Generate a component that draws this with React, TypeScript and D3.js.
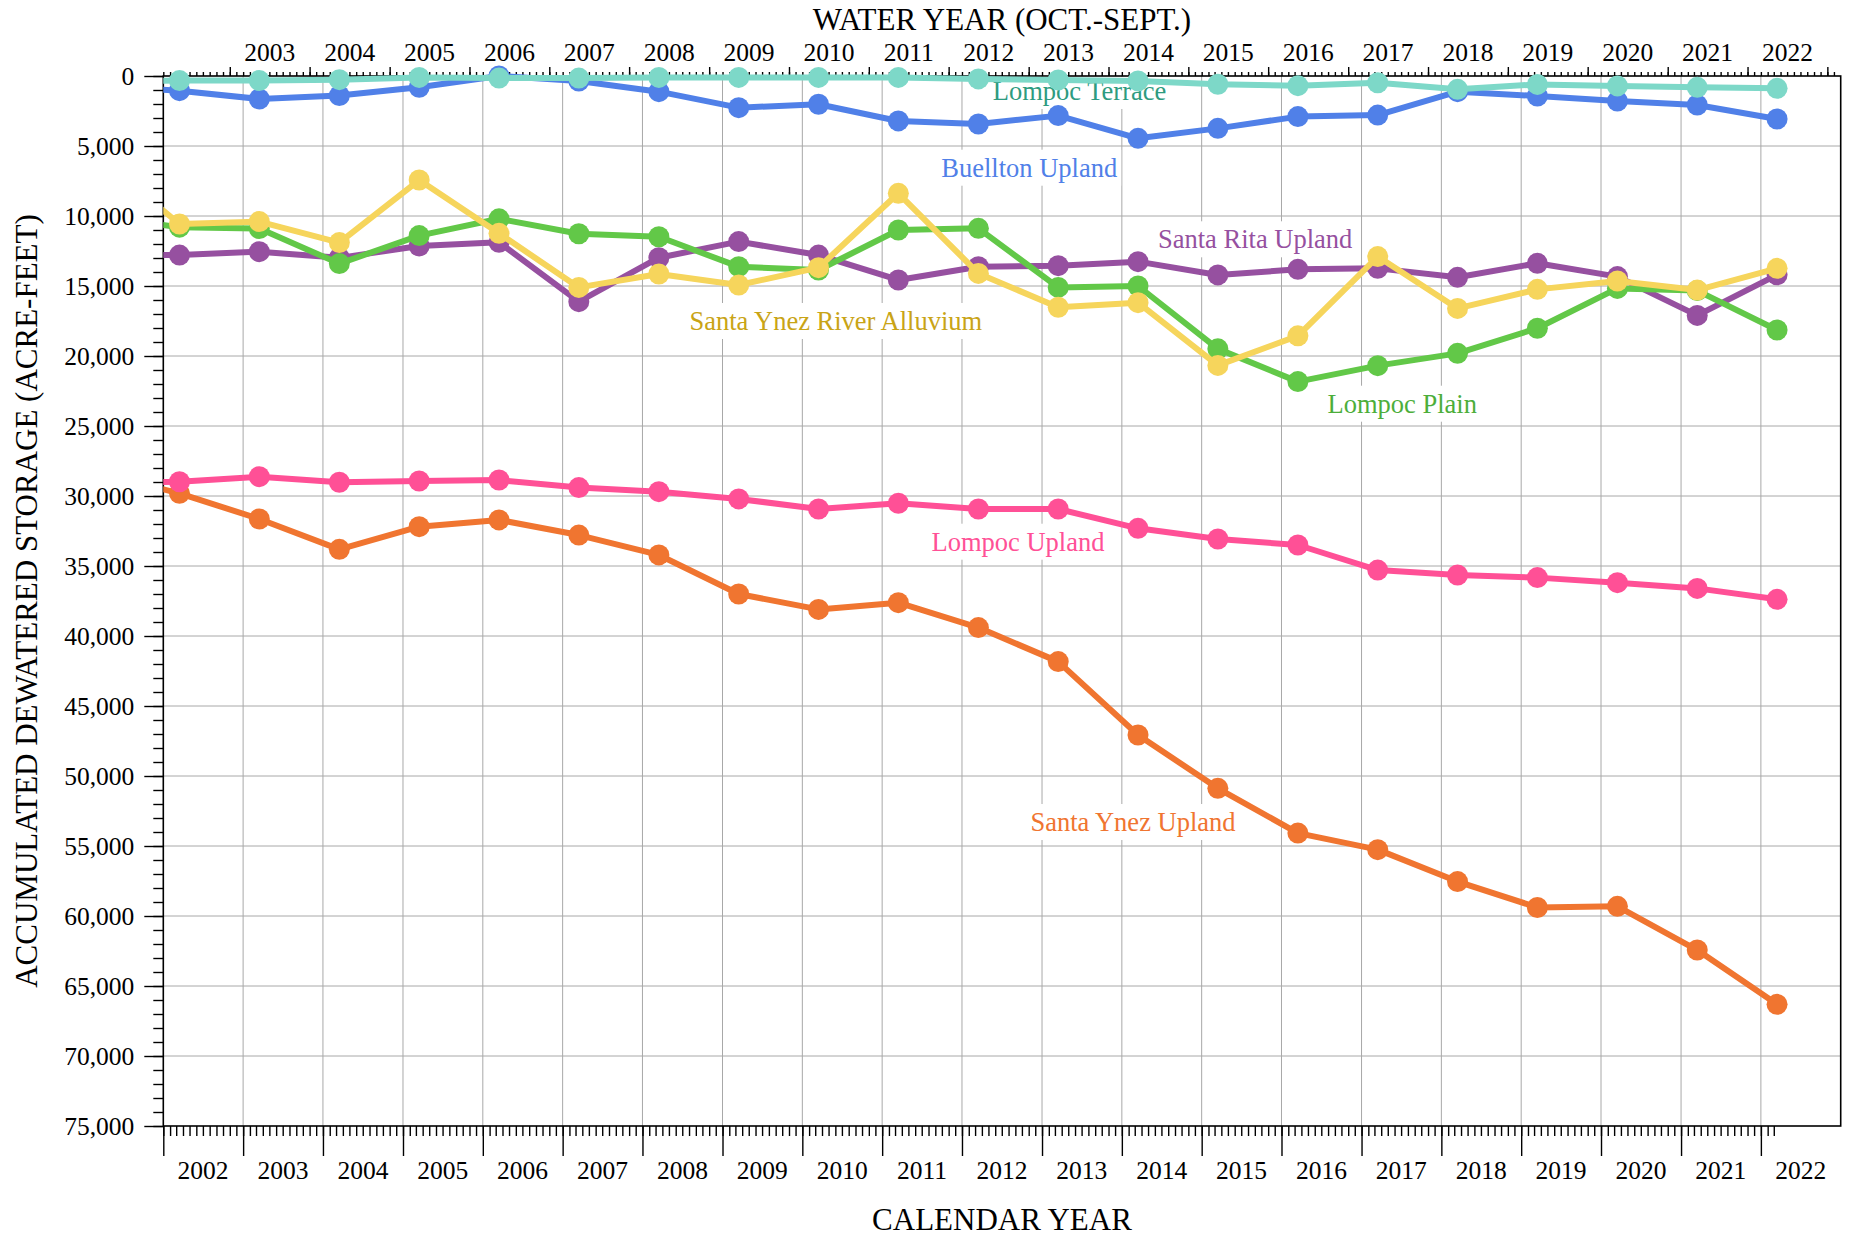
import React, { useEffect, useRef } from 'react';
import * as d3 from 'd3';

// Spring measurement years (2001 is the lead-in point, just outside the frame)
const YEARS = [2001, 2002, 2003, 2004, 2005, 2006, 2007, 2008, 2009, 2010, 2011, 2012, 2013, 2014, 2015, 2016, 2017, 2018, 2019, 2020, 2021, 2022];

const santaYnezUpland = [28400, 29810, 31640, 33810, 32190, 31710, 32790, 34210, 37000, 38100, 37620, 39400, 41830, 47070, 50880, 54080, 55260, 57540, 59390, 59310, 62430, 66310];
const lompocUpland = [29100, 28980, 28620, 29020, 28930, 28860, 29400, 29690, 30210, 30930, 30520, 30930, 30930, 32310, 33070, 33500, 35290, 35640, 35830, 36190, 36600, 37380];
const santaRitaUpland = [12800, 12790, 12550, 12990, 12140, 11880, 16120, 12980, 11830, 12790, 14570, 13620, 13550, 13260, 14210, 13810, 13740, 14380, 13380, 14330, 17100, 14200];
const lompocPlain = [10050, 10800, 10900, 13400, 11400, 10200, 11270, 11480, 13620, 13860, 11000, 10880, 15100, 15000, 19490, 21830, 20690, 19810, 18020, 15170, 15330, 18140];
const buelltonUpland = [700, 1050, 1640, 1400, 810, 0, 360, 1120, 2260, 2020, 3210, 3430, 2830, 4450, 3740, 2900, 2790, 1120, 1430, 1790, 2070, 3070];
const lompocTerrace = [400, 330, 330, 260, 100, 150, 150, 100, 100, 100, 100, 210, 280, 350, 590, 690, 480, 950, 600, 710, 810, 880];
const santaYnezRiverAlluvium = [5900, 10570, 10400, 11900, 7430, 11240, 15100, 14140, 14930, 13690, 8380, 14100, 16520, 16190, 20670, 18560, 12900, 16600, 15240, 14640, 15290, 13740];

const SERIES_NAMES = ['Santa Ynez Upland', 'Lompoc Upland', 'Santa Rita Upland', 'Lompoc Plain', 'Buellton Upland', 'Lompoc Terrace', 'Santa Ynez River Alluvium'];
const SERIES_VALUES = [santaYnezUpland, lompocUpland, santaRitaUpland, lompocPlain, buelltonUpland, lompocTerrace, santaYnezRiverAlluvium];
const LINE_COLORS = ['#f07530', '#ff5096', '#9650a0', '#62c848', '#5080e8', '#7dd8c8', '#f6d55c'];
const LABEL_COLORS = ['#f07530', '#ff5096', '#9650a0', '#4cae3a', '#5080e8', '#2e9b80', '#c9a416'];
// label anchor: fractional calendar year, value at text baseline
const LABEL_YEAR = [2014.14, 2012.70, 2015.67, 2017.51, 2012.84, 2013.47, 2010.42];
const LABEL_VALUE = [53929, 33907, 12307, 24050, 7193, 1714, 18143];

const Y_MAJOR = d3.range(0, 75001, 5000);
const Y_MINOR = d3.range(0, 75001, 1000);
const CAL_YEARS = d3.range(2002, 2023);
const WATER_YEARS = d3.range(2003, 2023);

const FONT = '"Times New Roman", "Liberation Serif", serif';

export default function App() {
  const ref = useRef<SVGSVGElement>(null);

  useEffect(() => {
    const svg = d3.select(ref.current);
    svg.selectAll('*').remove();

    const L = 163.3, R = 1840.7, T = 76, B = 1126;
    const x = d3.scaleUtc().domain([new Date(Date.UTC(2002, 0, 1)), new Date(Date.UTC(2023, 0, 1))]).range([L, R]);
    const y = d3.scaleLinear().domain([0, 75000]).range([T, B]);
    const fracYear = (fy: number) => {
      const yr = Math.floor(fy);
      const a = Date.UTC(yr, 0, 1), b = Date.UTC(yr + 1, 0, 1);
      return new Date(a + (b - a) * (fy - yr));
    };
    const pointDate = (yr: number) => new Date(Date.UTC(yr, 2, 16));

    svg.append('rect').attr('width', 1853).attr('height', 1238).attr('fill', '#fff');

    // grid
    const grid = svg.append('g').attr('stroke', '#a8a8a8').attr('stroke-width', 1);
    Y_MAJOR.filter(v => v > 0 && v < 75000).forEach(v => {
      grid.append('line').attr('x1', L).attr('x2', R).attr('y1', y(v)).attr('y2', y(v));
    });
    CAL_YEARS.filter(yr => yr > 2002).forEach(yr => {
      const xx = x(new Date(Date.UTC(yr, 0, 1)));
      grid.append('line').attr('x1', xx).attr('x2', xx).attr('y1', T).attr('y2', B);
    });

    // series labels with white boxes (beneath the lines)
    const lab = svg.append('g');
    SERIES_NAMES.forEach((name, si) => {
      const g = lab.append('g');
      const t = g.append('text')
        .attr('x', x(fracYear(LABEL_YEAR[si]))).attr('y', y(LABEL_VALUE[si]))
        .attr('text-anchor', 'middle')
        .attr('font-family', FONT).attr('font-size', 26.5)
        .attr('fill', LABEL_COLORS[si]).text(name);
      const bb = (t.node() as SVGTextElement).getBBox();
      g.insert('rect', 'text').attr('x', bb.x - 4).attr('y', Math.max(bb.y - 3, T + 1)).attr('width', bb.width + 8)
        .attr('height', bb.y + bb.height + 3 - Math.max(bb.y - 3, T + 1))
        .attr('fill', '#fff');
    });

    // y axis
    const yMinor = svg.append('g').attr('transform', `translate(${L},0)`)
      .call(d3.axisLeft(y).tickValues(Y_MINOR).tickSize(10).tickFormat(() => ''));
    const yMajor = svg.append('g').attr('transform', `translate(${L},0)`)
      .call(d3.axisLeft(y).tickValues(Y_MAJOR).tickSize(19).tickPadding(10).tickFormat(d3.format(',') as any));

    // bottom axis
    const bMinor = svg.append('g').attr('transform', `translate(0,${B})`)
      .call(d3.axisBottom(x).tickValues(d3.utcMonth.range(new Date(Date.UTC(2002, 0, 1)), new Date(Date.UTC(2022, 2, 2)))).tickSize(10).tickFormat(() => ''));
    const bMajor = svg.append('g').attr('transform', `translate(0,${B})`)
      .call(d3.axisBottom(x).tickValues(CAL_YEARS.map(yr => new Date(Date.UTC(yr, 0, 1)))).tickSize(30).tickFormat(() => ''));

    // top axis
    const tMinor = svg.append('g').attr('transform', `translate(0,${T})`)
      .call(d3.axisTop(x).tickValues(d3.utcMonth.range(new Date(Date.UTC(2002, 0, 1)), new Date(Date.UTC(2023, 0, 1)))).tickSize(4).tickFormat(() => ''));
    const tMajor = svg.append('g').attr('transform', `translate(0,${T})`)
      .call(d3.axisTop(x).tickValues(CAL_YEARS.map(yr => new Date(Date.UTC(yr, 10, 1)))).tickSize(9).tickFormat(() => ''));

    [yMinor, yMajor, bMinor, bMajor, tMinor, tMajor].forEach(g => {
      g.select('.domain').remove();
      g.selectAll('.tick line').attr('stroke', '#000').attr('stroke-width', 1.4);
    });
    yMajor.selectAll('.tick text').attr('font-family', FONT).attr('font-size', 25.5).attr('fill', '#000');

    // bottom labels
    svg.append('g').selectAll('text').data(CAL_YEARS).join('text')
      .attr('x', yr => x(new Date(Date.UTC(yr, 6, 2))))
      .attr('y', 1179)
      .attr('text-anchor', 'middle')
      .attr('font-family', FONT).attr('font-size', 25.5)
      .text(yr => String(yr));
    // top labels (water years)
    svg.append('g').selectAll('text').data(WATER_YEARS).join('text')
      .attr('x', yr => (x(new Date(Date.UTC(yr - 1, 10, 1))) + x(new Date(Date.UTC(yr, 10, 1)))) / 2)
      .attr('y', 61)
      .attr('text-anchor', 'middle')
      .attr('font-family', FONT).attr('font-size', 25.5)
      .text(yr => String(yr));

    // frame
    svg.append('rect').attr('x', L).attr('y', T).attr('width', R - L).attr('height', B - T)
      .attr('fill', 'none').attr('stroke', '#000').attr('stroke-width', 1.6);

    // series
    svg.append('clipPath').attr('id', 'plotclip').append('rect')
      .attr('x', L).attr('y', 0).attr('width', R - L).attr('height', 1238);
    const line = d3.line<number>().x((_, i) => x(pointDate(YEARS[i]))).y(v => y(v));
    const seriesG = svg.append('g').attr('clip-path', 'url(#plotclip)');
    SERIES_VALUES.forEach((vals, si) => {
      const g = seriesG.append('g');
      g.append('path').attr('d', line(vals) as string).attr('fill', 'none')
        .attr('stroke', LINE_COLORS[si]).attr('stroke-width', 6).attr('stroke-linejoin', 'round');
      g.selectAll('circle').data(vals.map((v, i) => ({ v, yr: YEARS[i] })).filter(d => d.yr >= 2002)).join('circle')
        .attr('cx', d => x(pointDate(d.yr))).attr('cy', d => y(d.v)).attr('r', 10.5)
        .attr('fill', LINE_COLORS[si]);
    });

    // titles
    svg.append('text').attr('x', (L + R) / 2).attr('y', 30).attr('text-anchor', 'middle')
      .attr('font-family', FONT).attr('font-size', 31).text('WATER YEAR (OCT.-SEPT.)');
    svg.append('text').attr('x', (L + R) / 2).attr('y', 1230).attr('text-anchor', 'middle')
      .attr('font-family', FONT).attr('font-size', 31).text('CALENDAR YEAR');
    svg.append('text').attr('transform', `translate(37,${(T + B) / 2}) rotate(-90)`).attr('text-anchor', 'middle')
      .attr('font-family', FONT).attr('font-size', 31).text('ACCUMULATED DEWATERED STORAGE (ACRE-FEET)');
  }, []);

  return (
    <svg ref={ref} width={1853} height={1238}
      style={{ position: 'absolute', left: 0, top: 0, display: 'block' }} />
  );
}
